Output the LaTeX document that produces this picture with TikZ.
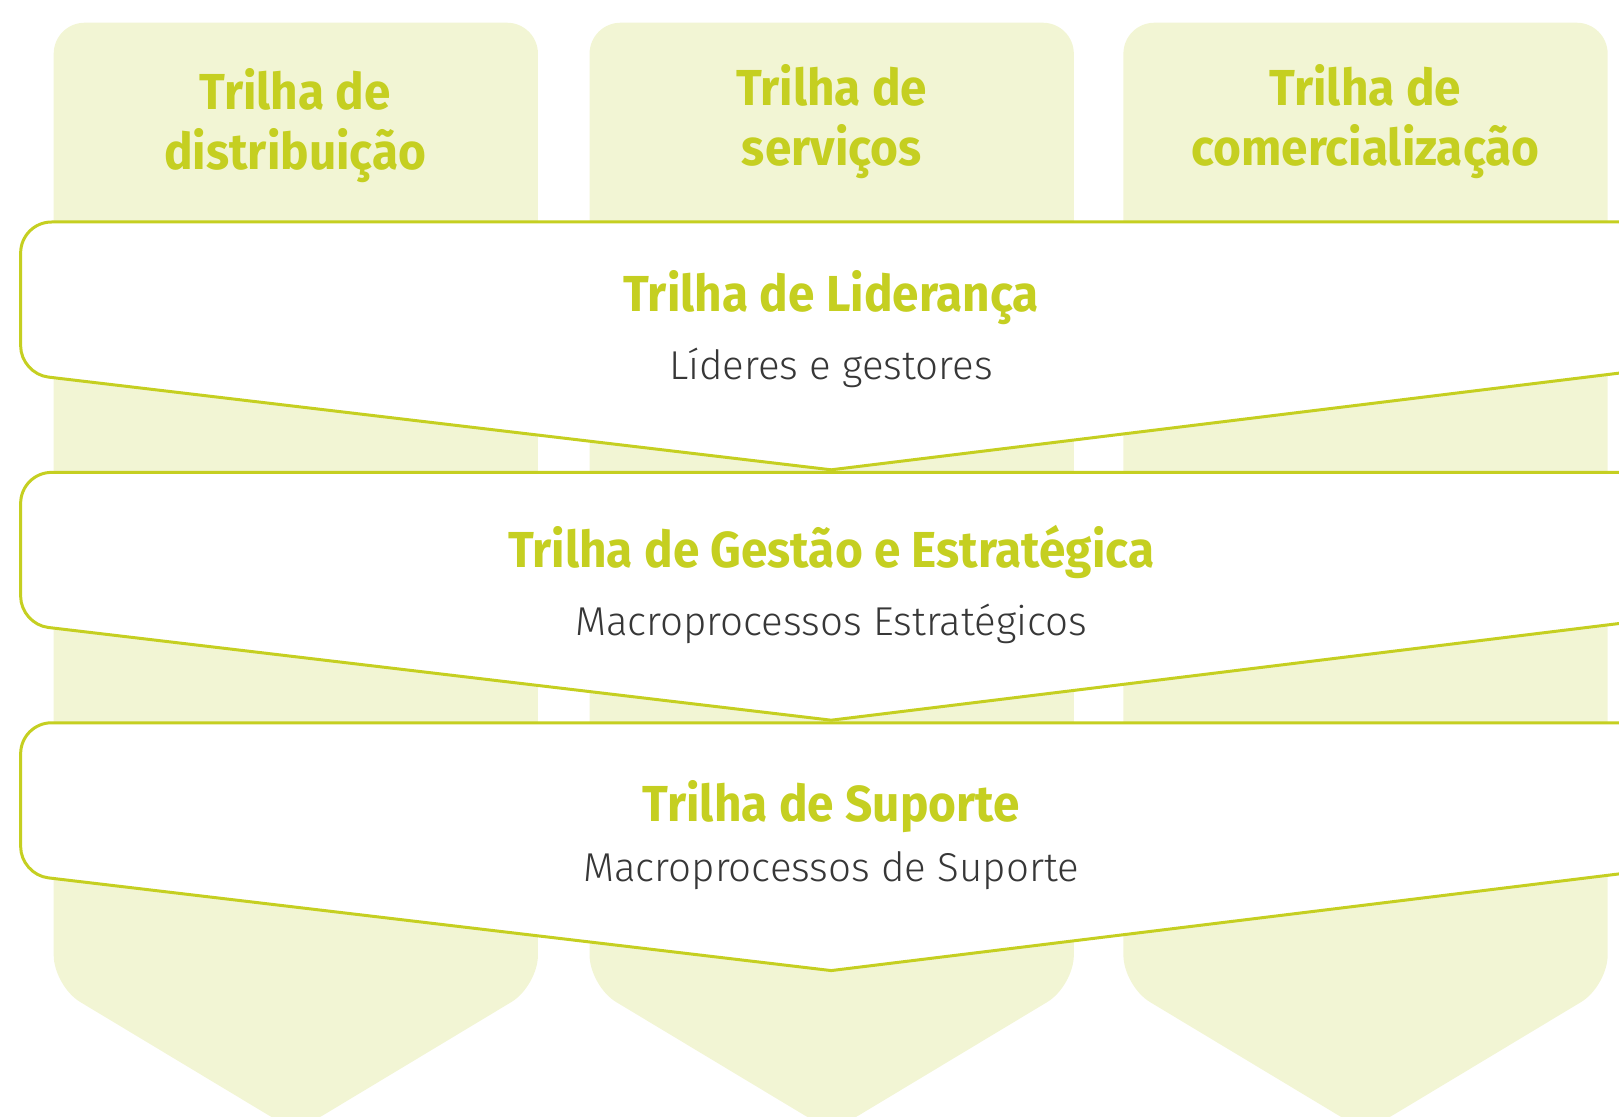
\documentclass[tikz,border=0pt]{standalone}
\usepackage{fontspec}
\setmainfont{Fira Sans}[FakeStretch=0.944]
\IfFontExistsTF{Fira Sans Light}{\newfontfamily\subfont{Fira Sans Light}}{\IfFontExistsTF{Lato Light}{\newfontfamily\subfont{Lato Light}}{\newfontfamily\subfont{Fira Sans}}}
\definecolor{colfill}{RGB}{242,245,212}
\definecolor{lime}{RGB}{197,207,33}
\definecolor{txtgray}{RGB}{55,55,55}
\begin{document}
\begin{tikzpicture}[x=1pt,y=-1pt,
  colbox/.style={fill=colfill, rounded corners=30pt},
  band/.style={fill=white, draw=lime, line width=2.9pt, line join=miter},
  coltitle/.style={text=lime, font=\bfseries\fontsize{49}{58}\selectfont, anchor=base, inner sep=0pt},
  bandtitle/.style={text=lime, font=\bfseries\fontsize{49}{58}\selectfont, anchor=base, inner sep=0pt},
  bandsub/.style={text=txtgray, font=\subfont\fontsize{39}{44}\selectfont, anchor=base, inner sep=0pt}]
\useasboundingbox (0,0) rectangle (1568,1081);
\clip (0,0) rectangle (1568,1081);
% columns
\foreach \c in {286.5,805.5,1322.5}{
  \fill[colbox] (\c,1096) -- ({\c-234.5},955) -- ({\c-234.5},22) -- ({\c+234.5},22) -- ({\c+234.5},955) -- cycle;
}
% bands
\foreach \d in {0,242.5,485}{
  \filldraw[band] (1620,{215+\d}) -- (50,{215+\d})
    .. controls (33.4,{215+\d}) and (20,{228.4+\d}) .. (20,{245+\d})
    -- (20,{335+\d})
    .. controls (20,{350+\d}) and (31.9,{363.4+\d}) .. (46.8,{365.2+\d})
    -- (805,{455+\d}) -- (1620,{355+\d}) -- cycle;
}
% column titles
\node[coltitle] (c1a) at (286,106) {Trilha de};
\node[coltitle] (c1b) at (286,164.6) {distribuição};
\node[coltitle] (c2a) at (805.5,102) {Trilha de};
\node[coltitle] (c2b) at (805.5,160) {serviços};
\node[coltitle] (c3a) at (1322.5,102) {Trilha de};
\node[coltitle] (c3b) at (1322.5,160) {comercialização};
% band texts
\node[bandtitle] (b1t) at (805,302) {Trilha de Liderança};
\node[bandsub] (b1s) at (805,368) {Líderes e gestores};
\node[bandtitle] (b2t) at (805,550) {Trilha de Gestão e Estratégica};
\node[bandsub] (b2s) at (805,615) {Macroprocessos Estratégicos};
\node[bandtitle] (b3t) at (805,796) {Trilha de Suporte};
\node[bandsub] (b3s) at (805,854) {Macroprocessos de Suporte};
\end{tikzpicture}
\end{document}
